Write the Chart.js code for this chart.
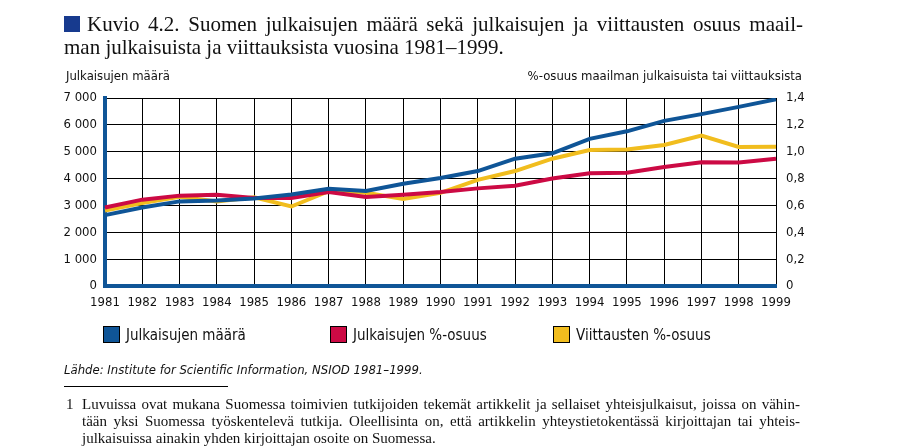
<!DOCTYPE html>
<html>
<head>
<meta charset="utf-8">
<script src="https://cdn.jsdelivr.net/npm/chart.js@4.4.0/dist/chart.umd.min.js"></script>
<style>
  body { margin: 0; background: #fff; width: 908px; height: 447px; position: relative; overflow: hidden; }
  #chartCanvas { position: absolute; left: 0; top: 0; }
  .txt { position: absolute; white-space: nowrap; color: #111; }
  .narrow { font-family: "Liberation Sans Narrow", "DejaVu Sans Condensed", "Roboto Condensed", "Liberation Sans", sans-serif; }
  .serif { font-family: "Liberation Serif", "DejaVu Serif", serif; }
  #title1, #title2 { font-size: 21px; line-height: 24px; }
  #title1 { left: 87px; top: 12px; width: 716px; text-align: justify; text-align-last: justify; }
  #title2 { left: 64px; top: 35px; }
  #square { position: absolute; left: 64px; top: 16px; width: 16px; height: 16px; background: #173a8e; }
  .legend-item { position: absolute; top: 326px; font-size: 15px; line-height: 18px; }
  .legend-item span.box { display: inline-block; width: 15px; height: 15px; border: 1px solid #000; vertical-align: -3px; margin-right: 6px; }
  #source { left: 64px; top: 362px; font-size: 13px; font-style: italic; }
  #rule { position: absolute; left: 64px; top: 386px; width: 164px; height: 1px; background: #000; }
  .fn { left: 82px; font-size: 15px; line-height: 17px; width: 718px; }
  .fn.j { text-align: justify; text-align-last: justify; }
</style>
</head>
<body>
<canvas id="chartCanvas" width="908" height="447"></canvas>
<div id="square"></div>
<div id="title1" class="txt serif">Kuvio 4.2. Suomen julkaisujen määrä sekä julkaisujen ja viittausten osuus maail-</div>
<div id="title2" class="txt serif">man julkaisuista ja viittauksista vuosina 1981–1999.</div>
<div class="txt narrow" style="left:66px;top:68px;font-size:13px;">Julkaisujen määrä</div>
<div class="txt narrow" style="right:106px;top:68px;font-size:13px;">%-osuus maailman julkaisuista tai viittauksista</div>
<div id="legend"></div>
<div id="source" class="txt narrow">Lähde: Institute for Scientific Information, NSIOD 1981–1999.</div>
<div id="rule"></div>
<div class="txt serif" style="left:66px;top:396px;font-size:15px;line-height:17px;">1</div>
<div class="txt serif fn j" style="top:396px;">Luvuissa ovat mukana Suomessa toimivien tutkijoiden tekemät artikkelit ja sellaiset yhteisjulkaisut, joissa on vähin-</div>
<div class="txt serif fn j" style="top:413px;">tään yksi Suomessa työskentelevä tutkija. Oleellisinta on, että artikkelin yhteystietokentässä kirjoittajan tai yhteis-</div>
<div class="txt serif fn" style="top:430px;">julkaisuissa ainakin yhden kirjoittajan osoite on Suomessa.</div>

<script>
const years = ['1981', '1982', '1983', '1984', '1985', '1986', '1987', '1988', '1989', '1990',
  '1991', '1992', '1993', '1994', '1995', '1996', '1997', '1998', '1999'];

// left axis: number of publications
const julkaisujenMaara = [2640, 2920, 3150, 3180, 3260, 3410, 3620, 3540, 3810, 4020,
  4280, 4740, 4940, 5480, 5760, 6150, 6400, 6670, 6950];
// right axis: share of world publications / citations (%)
const julkaisujenOsuus = [0.585, 0.643, 0.673, 0.68, 0.656, 0.655, 0.70, 0.663, 0.68, 0.70,
  0.727, 0.746, 0.80, 0.84, 0.843, 0.886, 0.922, 0.92, 0.948];
const viittaustenOsuus = [0.562, 0.618, 0.665, 0.63, 0.66, 0.592, 0.706, 0.694, 0.648, 0.694,
  0.79, 0.856, 0.948, 1.012, 1.017, 1.05, 1.12, 1.035, 1.037];

const leftTicks = ['0', '1 000', '2 000', '3 000', '4 000', '5 000', '6 000', '7 000'];
const rightTicks = ['0', '0,2', '0,4', '0,6', '0,8', '1,0', '1,2', '1,4'];

const seriesNames = ['Julkaisujen määrä', 'Julkaisujen %-osuus', 'Viittausten %-osuus'];
const seriesColors = ['#0f5597', '#cc0a44', '#f1bd1e'];

const narrowFont = '"Liberation Sans Narrow", "DejaVu Sans Condensed", "Roboto Condensed", "Liberation Sans", sans-serif';

// legend built from the series names
const legendX = [103, 330, 553];
const legendEl = document.getElementById('legend');
seriesNames.forEach((name, i) => {
  const item = document.createElement('div');
  item.className = 'txt narrow legend-item';
  item.style.left = legendX[i] + 'px';
  item.innerHTML = '<span class="box" style="background:' + seriesColors[i] + '"></span>' + name;
  legendEl.appendChild(item);
});

const ctx = document.getElementById('chartCanvas').getContext('2d');
new Chart(ctx, {
  type: 'line',
  data: {
    labels: years,
    datasets: [
      { label: seriesNames[0], data: julkaisujenMaara, yAxisID: 'y', borderColor: seriesColors[0] },
      { label: seriesNames[1], data: julkaisujenOsuus, yAxisID: 'y2', borderColor: seriesColors[1] },
      { label: seriesNames[2], data: viittaustenOsuus, yAxisID: 'y2', borderColor: seriesColors[2] }
    ]
  },
  options: {
    responsive: false,
    animation: false,
    devicePixelRatio: 1,
    layout: { padding: { top: 98, left: 0, right: 0, bottom: 0 } },
    elements: {
      line: { borderWidth: 4, tension: 0, borderJoinStyle: 'miter', borderCapStyle: 'butt' },
      point: { radius: 0 }
    },
    plugins: { legend: { display: false }, tooltip: { enabled: false } },
    scales: {
      x: {
        offset: false,
        grid: { color: '#000', lineWidth: 1, drawTicks: false },
        border: { color: '#0f5597', width: 4 },
        ticks: { color: '#111', font: { family: narrowFont, size: 13 }, padding: 9, maxRotation: 0, autoSkip: false },
        afterFit: scale => { scale.height = 161; }
      },
      y: {
        position: 'left',
        min: 0, max: 7000,
        grid: { color: '#000', lineWidth: 1, drawTicks: false },
        border: { color: '#0f5597', width: 4 },
        ticks: { stepSize: 1000, color: '#111', font: { family: narrowFont, size: 13 }, padding: 8,
          callback: (v, i) => leftTicks[i] },
        afterFit: scale => { scale.width = 105; }
      },
      y2: {
        position: 'right',
        min: 0, max: 1.4,
        grid: { display: false, drawTicks: false },
        border: { display: false },
        ticks: { stepSize: 0.2, color: '#111', font: { family: narrowFont, size: 13 }, padding: 10,
          callback: (v, i) => rightTicks[i] },
        afterFit: scale => { scale.width = 132; }
      }
    }
  }
});
</script>
</body>
</html>
